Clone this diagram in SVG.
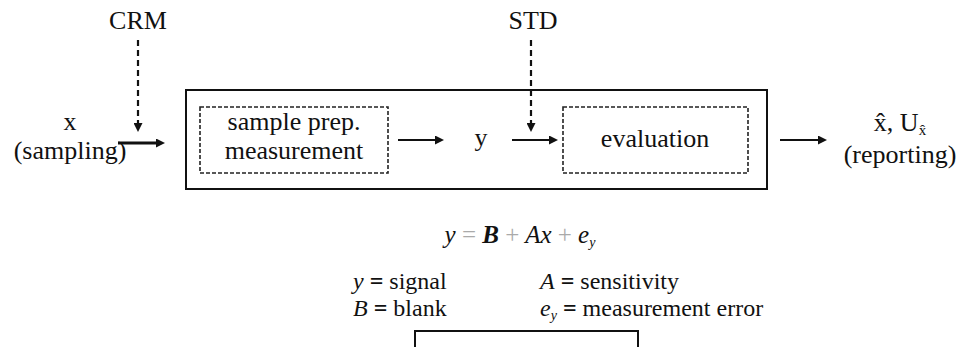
<svg xmlns="http://www.w3.org/2000/svg" width="959" height="347" viewBox="0 0 959 347" font-family="'Liberation Serif', 'DejaVu Serif', serif">
<defs>
<marker id="ah" markerUnits="userSpaceOnUse" markerWidth="9" markerHeight="9" viewBox="0 0 9 9" refX="3" refY="4.5" orient="auto">
<path d="M0,0 L9,4.5 L0,9 z" fill="#111"/>
</marker>
</defs>
<style>
text { font-family: 'Liberation Serif', 'DejaVu Serif', serif; fill: #111; }
.lbl { font-size: 26px; }
.outer { fill: none; stroke: #111; stroke-width: 2; }
.dbox { fill: none; stroke: #222; stroke-width: 1.6; stroke-dasharray: 4 2; }
.arr { fill: none; stroke: #111; stroke-width: 2; marker-end: url(#ah); }
.thick { stroke-width: 3; }
.darr { fill: none; stroke: #111; stroke-width: 2.2; stroke-dasharray: 6 4; marker-end: url(#ah); }
.eq { font-size: 25px; font-style: italic; }
.op { fill: #aaa; font-style: normal; font-weight: normal; }
.leg { font-size: 24px; }
.it { font-style: italic; }
.b { font-weight: bold; }
</style>

<g id="crm"><text class="lbl" x="138" y="29" text-anchor="middle">CRM</text></g>
<g id="std"><text class="lbl" x="533" y="29" text-anchor="middle">STD</text></g>
<g id="input">
<text class="lbl" x="70" y="130" text-anchor="middle">x</text>
<text class="lbl" x="70" y="159" text-anchor="middle">(sampling)</text>
</g>
<g id="process"><rect class="outer" x="186" y="90" width="581" height="99"/></g>
<g id="prep">
<rect class="dbox" x="200" y="107" width="188" height="66"/>
<text class="lbl" x="294" y="130" text-anchor="middle">sample prep.</text>
<text class="lbl" x="294" y="159" text-anchor="middle">measurement</text>
</g>
<g id="signal"><text class="lbl" x="481" y="146" text-anchor="middle">y</text></g>
<g id="evaluation">
<rect class="dbox" x="563" y="107" width="185" height="66"/>
<text class="lbl" x="655" y="147" text-anchor="middle">evaluation</text>
</g>
<g id="output">
<text class="lbl" x="900" y="131" text-anchor="middle">x̂, U<tspan font-size="15" dy="4">x̂</tspan></text>
<text class="lbl" x="900" y="163" text-anchor="middle">(reporting)</text>
</g>

<g id="connectors">
<path class="darr" d="M138,40 V126"/>
<path class="darr" d="M531,40 V126"/>
<path class="arr thick" d="M118,143 H159"/>
<path class="arr" d="M398,140 H438"/>
<path class="arr" d="M512,140 H552"/>
<path class="arr" d="M780,140 H821"/>
</g>

<g id="equation">
<text class="eq" x="520" y="243" text-anchor="middle">y <tspan class="op">=</tspan> <tspan class="b">B</tspan> <tspan class="op">+</tspan> Ax <tspan class="op">+</tspan> e<tspan font-size="14" dy="4">y</tspan></text>
</g>

<g id="legend">
<text class="leg" x="353" y="289"><tspan class="it">y</tspan> <tspan class="b">=</tspan> signal</text>
<text class="leg" x="353" y="316"><tspan class="it">B</tspan> <tspan class="b">=</tspan> blank</text>
<text class="leg" x="540" y="289"><tspan class="it">A</tspan> <tspan class="b">=</tspan> sensitivity</text>
<text class="leg" x="540" y="316"><tspan class="it">e</tspan><tspan class="it" font-size="14" dy="4">y</tspan><tspan dy="-4"> </tspan><tspan class="b">=</tspan> measurement error</text>
</g>

<g id="bottom-box"><rect class="outer" x="415" y="331" width="223" height="30"/></g>
</svg>
